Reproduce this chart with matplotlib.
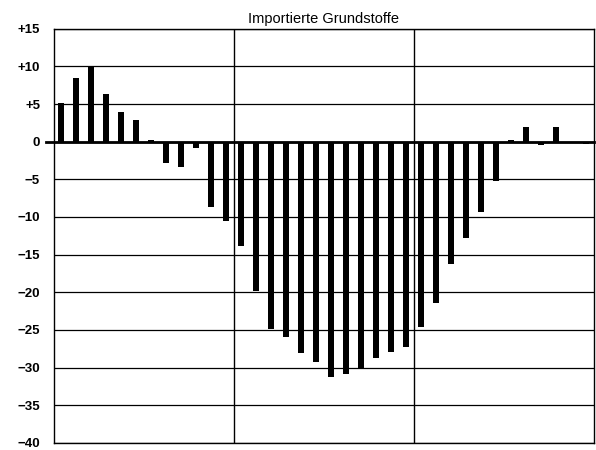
import numpy as np
import matplotlib
matplotlib.use("Agg")
import matplotlib.pyplot as plt

plt.rcParams['font.family'] = ['Liberation Sans', 'DejaVu Sans']

title = "Importierte Grundstoffe"

# 36 periods, three blocks of 12
values = [5.2, 8.4, 10.1, 6.4, 4.0, 2.9, 0.2, -2.8, -3.4, -0.9, -8.7, -10.5,
          -13.8, -19.8, -24.9, -25.9, -28.1, -29.3, -31.2, -30.9, -30.1, -28.8, -28.0, -27.3,
          -24.6, -21.4, -16.3, -12.8, -9.4, -5.2, 0.2, 2.0, -0.5, 2.0, -0.2, -0.35]

yticks = [15, 10, 5, 0, -5, -10, -15, -20, -25, -30, -35, -40]
ytick_labels = ["+15", "+10", "+5", "0", "\u22125", "\u221210", "\u221215", "\u221220",
                "\u221225", "\u221230", "\u221235", "\u221240"]

fig = plt.figure(figsize=(5.96, 4.5), dpi=100)
ax = fig.add_axes([0.0906, 0.016, 0.906, 0.92])

x = np.arange(len(values))
ax.bar(x, values, width=0.4, color='black', zorder=3)

ax.set_xlim(-0.5, len(values) - 0.5)
ax.set_ylim(-40, 15)

for y in yticks:
    ax.axhline(y, color='black', lw=0.9, zorder=1)
ax.axhline(0, xmin=-0.015, xmax=1, color='black', lw=2, zorder=4, clip_on=False)
for xv in [11.5, 23.5]:
    ax.axvline(xv, color='black', lw=1, zorder=1)

ax.set_yticks(yticks)
ax.set_yticklabels(ytick_labels, fontsize=9.5, fontweight='bold')
ax.tick_params(axis='y', length=0, pad=10)
ax.set_xticks([])
for s in ax.spines.values():
    s.set_linewidth(1)

ax.set_title(title, fontsize=10.5, pad=4)

fig.savefig("out.png", dpi=100)
